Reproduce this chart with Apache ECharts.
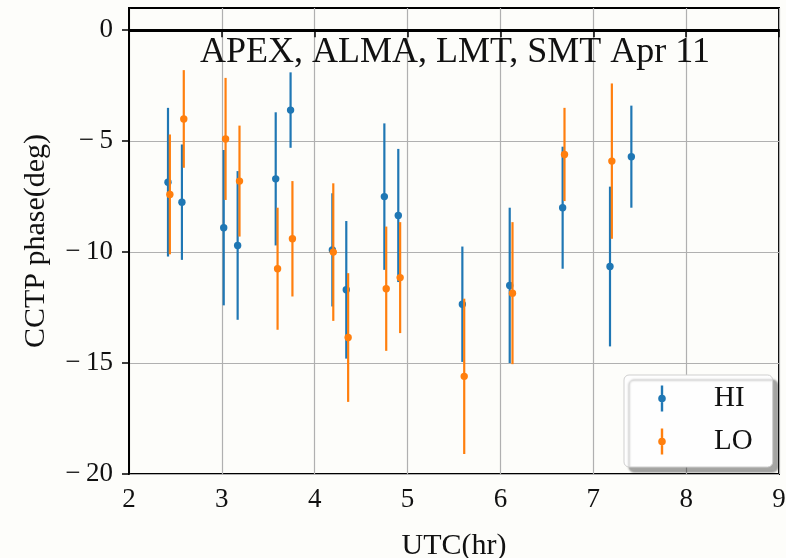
<!DOCTYPE html>
<html>
<head>
<meta charset="utf-8">
<script src="https://cdn.jsdelivr.net/npm/echarts@6/dist/echarts.min.js"></script>
<style>
  html, body { margin: 0; padding: 0; background: #fdfdfa; }
  #chart { width: 786px; height: 558px; }
</style>
</head>
<body>
<div id="chart"></div>
<script>
  // HI band
  const hiX = [2.42, 2.57, 3.02, 3.17, 3.58, 3.74, 4.19, 4.34, 4.75, 4.90, 5.59, 6.10, 6.67, 7.18, 7.41]
  const hiY = [-6.85, -7.75, -8.9, -9.7, -6.7, -3.6, -9.9, -11.7, -7.5, -8.35, -12.35, -11.5, -8.0, -10.65, -5.7]
  const hiErr = [3.35, 2.6, 3.5, 3.35, 3.0, 1.7, 2.55, 3.1, 3.3, 3.0, 2.6, 3.5, 2.75, 3.6, 2.3]
  // LO band
  const loX = [2.44, 2.59, 3.04, 3.19, 3.60, 3.76, 4.20, 4.36, 4.77, 4.92, 5.61, 6.13, 6.69, 7.20]
  const loY = [-7.4, -4.0, -4.9, -6.8, -10.75, -9.4, -10.0, -13.85, -11.65, -11.15, -15.6, -11.85, -5.6, -5.9]
  const loErr = [2.7, 2.2, 2.75, 2.5, 2.75, 2.6, 3.1, 2.9, 2.8, 2.5, 3.5, 3.2, 2.1, 3.5]

  const yTicks = [-20, -15, -10, -5, 0]

  const serif = 'Liberation Serif'
  // errorbar glyph centred at x=0, bounding box padded to 77x26 so it sits where matplotlib puts it
  const legendIcon = 'path://M-30,0L-30,0Z M47,26L47,26Z ' +
    'M-1.2,0H1.2V9.5H-1.2Z M-1.2,16.5H1.2V26H-1.2Z M-3.8,13A3.8,3.8 0 1 1 3.8,13A3.8,3.8 0 1 1 -3.8,13Z'

  function toRows(xs, ys, es) {
    let rows = []
    for (let i = 0; i < xs.length; i++) {
      rows.push([xs[i], ys[i], es[i]])
    }
    return rows
  }

  function renderErr(params, api) {
    let x = api.value(0)
    let y = api.value(1)
    let e = api.value(2)
    let top = api.coord([x, y + e])
    let bot = api.coord([x, y - e])
    let c = api.coord([x, y])
    let color = api.visual('color')
    return {
      type: 'group',
      children: [
        { type: 'line', shape: { x1: top[0], y1: top[1], x2: bot[0], y2: bot[1] }, style: { stroke: color, lineWidth: 2.2 } },
        { type: 'circle', shape: { cx: c[0], cy: c[1], r: 3.7 }, style: { fill: color } }
      ]
    }
  }

  const minus = v => String(v).replace('-', '\u2212\u2009')

  let chart = echarts.init(document.getElementById('chart'))
  chart.setOption({
    backgroundColor: '#fdfdfa',
    animation: false,
    title: {
      text: 'APEX, ALMA, LMT, SMT Apr 11',
      left: 450,
      top: 30,
      textAlign: 'center',
      textStyle: { fontFamily: serif, fontSize: 36, fontWeight: 'normal', color: '#111' }
    },
    grid: {
      left: 129, right: 7, top: 8, bottom: 84,
      outerBoundsMode: 'none',
      containLabel: false,
      show: true, borderColor: '#000', borderWidth: 2, backgroundColor: 'transparent'
    },
    legend: {
      orient: 'vertical',
      left: 624,
      top: 375,
      data: ['HI', 'LO'],
      icon: legendIcon,
      itemWidth: 77,
      itemHeight: 26,
      itemGap: 14,
      padding: [9, 20, 11, 8],
      backgroundColor: '#fefefe',
      borderColor: '#cfcfcf',
      borderWidth: 1,
      borderRadius: 5,
      shadowColor: 'rgba(0,0,0,0.35)',
      shadowBlur: 2,
      shadowOffsetX: 5,
      shadowOffsetY: 5,
      textStyle: { fontFamily: serif, fontSize: 29, color: '#111' }
    },
    xAxis: {
      type: 'value',
      min: 2, max: 9, interval: 1,
      name: 'UTC(hr)',
      nameLocation: 'middle',
      nameGap: 57,
      nameTextStyle: { fontFamily: serif, fontSize: 30, color: '#111' },
      axisLine: { lineStyle: { color: '#000', width: 2 } },
      axisTick: { inside: false, length: 7, lineStyle: { color: '#000', width: 1.5 } },
      axisLabel: { fontFamily: serif, fontSize: 27, color: '#111', margin: 12 },
      splitLine: { show: true, lineStyle: { color: '#b0b0b0', width: 1.2 } }
    },
    yAxis: {
      type: 'value',
      min: -20, max: 1, interval: 5,
      name: 'CCTP phase(deg)',
      nameLocation: 'middle',
      nameGap: 78,
      nameTextStyle: { fontFamily: serif, fontSize: 30, color: '#111' },
      axisLine: { lineStyle: { color: '#000', width: 2 } },
      axisTick: { inside: false, length: 7, customValues: yTicks, lineStyle: { color: '#000', width: 1.5 } },
      axisLabel: { fontFamily: serif, fontSize: 27, color: '#111', margin: 16, customValues: yTicks, formatter: minus },
      splitLine: { show: true, lineStyle: { color: '#b0b0b0', width: 1.2 } }
    },
    series: [
      {
        name: 'HI',
        type: 'custom',
        renderItem: renderErr,
        itemStyle: { color: '#1f77b4' },
        encode: { x: 0, y: 1 },
        data: toRows(hiX, hiY, hiErr),
        markLine: {
          silent: true,
          symbol: ['none', 'none'],
          label: { show: false },
          lineStyle: { color: '#000', width: 3.2, type: 'solid' },
          data: [{ yAxis: 0 }]
        }
      },
      {
        name: 'LO',
        type: 'custom',
        renderItem: renderErr,
        itemStyle: { color: '#ff7f0e' },
        encode: { x: 0, y: 1 },
        data: toRows(loX, loY, loErr)
      }
    ]
  })
</script>
</body>
</html>
